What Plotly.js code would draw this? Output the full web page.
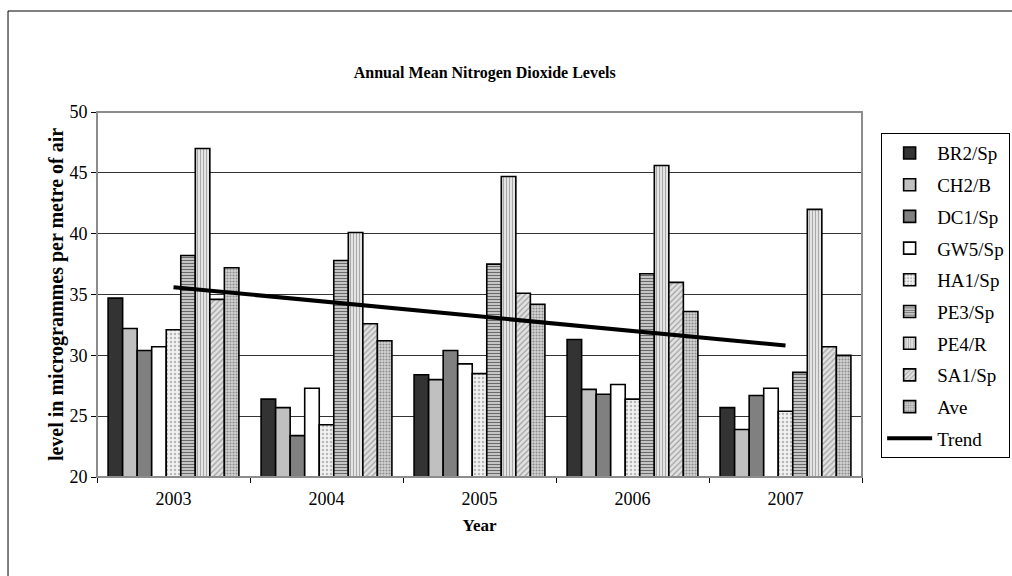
<!DOCTYPE html>
<html>
<head>
<meta charset="utf-8">
<script src="https://cdn.plot.ly/plotly-3.0.1.min.js"></script>
<style>
html,body{margin:0;padding:0;background:#fff;}
#chart{width:1012px;height:576px;}
</style>
</head>
<body>
<div id="chart"></div>
<script>
const years = ["2003", "2004", "2005", "2006", "2007"];
const BR2_Sp = [34.7, 26.4, 28.4, 31.3, 25.7];
const CH2_B  = [32.2, 25.7, 28.0, 27.2, 23.9];
const DC1_Sp = [30.4, 23.4, 30.4, 26.8, 26.7];
const GW5_Sp = [30.7, 27.3, 29.3, 27.6, 27.3];
const HA1_Sp = [32.1, 24.3, 28.5, 26.4, 25.4];
const PE3_Sp = [38.2, 37.8, 37.5, 36.7, 28.6];
const PE4_R  = [47.0, 40.1, 44.7, 45.6, 42.0];
const SA1_Sp = [34.6, 32.6, 35.1, 36.0, 30.7];
const Ave    = [37.2, 31.2, 34.2, 33.6, 30.0];
const Trend  = [35.6, 34.4, 33.2, 32.0, 30.8];
const seriesNames = ["BR2/Sp", "CH2/B", "DC1/Sp", "GW5/Sp", "HA1/Sp", "PE3/Sp", "PE4/R", "SA1/Sp", "Ave"];
const seriesValues = [BR2_Sp, CH2_B, DC1_Sp, GW5_Sp, HA1_Sp, PE3_Sp, PE4_R, SA1_Sp, Ave];

const styles = [
  {color: "#333333"},
  {color: "#c0c0c0"},
  {color: "#808080"},
  {color: "#ffffff"},
  {color: "#eeeeee", pattern: {shape: ".", fgcolor: "#b8b8b8", bgcolor: "#f2f2f2", size: 4, solidity: 0.3}},
  {color: "#a0a0a0", pattern: {shape: "-", fgcolor: "#6a6a6a", bgcolor: "#cfcfcf", size: 3, solidity: 0.4}},
  {color: "#d8d8d8", pattern: {shape: "|", fgcolor: "#a8a8a8", bgcolor: "#e4e4e4", size: 3, solidity: 0.35}},
  {color: "#d0d0d0", pattern: {shape: "/", fgcolor: "#a0a0a0", bgcolor: "#e2e2e2", size: 4, solidity: 0.3}},
  {color: "#c4c4c4", pattern: {shape: ".", fgcolor: "#8c8c8c", bgcolor: "#d4d4d4", size: 3, solidity: 0.4}}
];

const traces = seriesNames.map((name, i) => {
  const m = {color: styles[i].color, line: {color: "#000", width: 1.6}};
  if (styles[i].pattern) m.pattern = styles[i].pattern;
  return {type: "bar", name: name, x: years, y: seriesValues[i], marker: m, legendgroup: "g" + i};
});
traces.push({type: "scatter", mode: "lines", name: "Trend", x: years, y: Trend,
  line: {color: "#000", width: 4}, legendgroup: "g9"});

const font = "'Liberation Serif', 'Times New Roman', serif";
const layout = {
  width: 1012, height: 576,
  margin: {l: 97, r: 150, t: 112, b: 99, pad: 0, autoexpand: false},
  paper_bgcolor: "#fff", plot_bgcolor: "#fff",
  font: {family: font, size: 18, color: "#000"},
  barmode: "group", bargap: 0.145, bargroupgap: 0,
  showlegend: true,
  title: {text: "<b>Annual Mean Nitrogen Dioxide Levels</b>", font: {family: font, size: 16, color: "#000"},
          x: 0.479, xanchor: "center", y: 0.875, yanchor: "middle"},
  xaxis: {type: "category", title: {text: "<b>Year</b>", font: {family: font, size: 17}, standoff: 11},
          showline: true, linecolor: "#000", linewidth: 1, mirror: false,
          ticks: "outside", tickson: "boundaries", ticklen: 5, tickcolor: "#000",
          ticklabelstandoff: 5,
          showgrid: false, tickfont: {family: font, size: 18}, fixedrange: true},
  yaxis: {range: [20, 50], dtick: 5, title: {text: "<b>level in microgrammes per metre of air</b>", font: {family: font, size: 20}, standoff: 0},
          showline: true, linecolor: "#000", linewidth: 1,
          ticks: "outside", ticklen: 5, tickcolor: "#000",
          showgrid: true, gridcolor: "#333", gridwidth: 1, zeroline: false,
          tickfont: {family: font, size: 18}, fixedrange: true},
  legend: {x: 1.025, y: 0.942, xanchor: "left", yanchor: "top",
           bordercolor: "#000", borderwidth: 1, bgcolor: "#fff", itemwidth: 45,
           font: {family: font, size: 19}, tracegroupgap: 4, traceorder: "grouped"},
  shapes: [
    {type: "rect", xref: "paper", yref: "paper", x0: 0, x1: 1, y0: 0, y1: 1,
     line: {color: "#8c8c8c", width: 2}, fillcolor: "rgba(0,0,0,0)", layer: "above"},
    {type: "line", xref: "paper", yref: "paper", x0: -0.1163, x1: -0.1163, y0: 1.2767, y1: -0.30,
     line: {color: "#000", width: 1}},
    {type: "line", xref: "paper", yref: "paper", x0: -0.1163, x1: 1.25, y0: 1.2767, y1: 1.2767,
     line: {color: "#000", width: 1}}
  ]
};
Plotly.newPlot("chart", traces, layout, {displayModeBar: false, staticPlot: true});
</script>
</body>
</html>
